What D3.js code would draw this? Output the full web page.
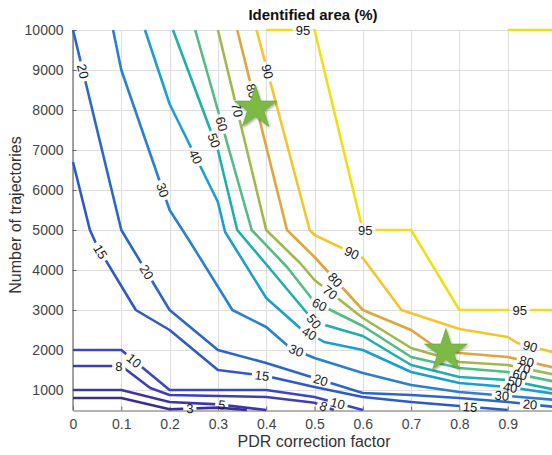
<!DOCTYPE html>
<html>
<head>
<meta charset="utf-8">
<script src="https://cdn.jsdelivr.net/npm/d3@7"></script>
<style>
  body { margin: 0; background: #fff; }
  svg { display: block; font-family: "Liberation Sans", Arial, sans-serif; }
</style>
</head>
<body>
<svg id="chart" width="552" height="455"></svg>
<script>
// Axis ticks
const xTicks = [0, 0.1, 0.2, 0.3, 0.4, 0.5, 0.6, 0.7, 0.8, 0.9, 1];
const yTicks = [1000, 2000, 3000, 4000, 5000, 6000, 7000, 8000, 9000, 10000];

// Contour lines: [PDR correction factor, number of trajectories]
const c3  = [[0,800],[0.1,800],[0.2,520],[0.3,560],[0.36,500]];
const c5  = [[0,1000],[0.1,1000],[0.2,700],[0.3,640],[0.4,500]];
const c8  = [[0,1600],[0.1,1600],[0.16,1050],[0.2,875],[0.4,825],[0.5,680],[0.54,500]];
const c10 = [[0,2000],[0.1,2000],[0.2,1000],[0.4,1000],[0.5,825],[0.6,500]];
const c15 = [[0,6700],[0.035,5000],[0.05,4600],[0.13,3000],[0.2,2500],[0.3,1500],[0.4,1350],[0.5,1075],[0.6,825],[0.7,700],[0.8,600],[0.9,500]];
const c20 = [[0,10000],[0.1,5000],[0.2,3000],[0.3,2000],[0.4,1675],[0.5,1300],[0.6,925],[0.7,875],[0.8,800],[0.9,700],[1,575]];
const c30 = [[0.083,10000],[0.1,9000],[0.2,5500],[0.24,4750],[0.33,3000],[0.4,2575],[0.45,2050],[0.5,1800],[0.6,1425],[0.7,1125],[0.8,950],[0.9,850],[1,750]];
const c40 = [[0.149,10000],[0.2,8150],[0.3,5700],[0.315,4950],[0.4,3300],[0.47,2550],[0.52,2200],[0.6,2000],[0.7,1450],[0.8,1175],[0.9,1075],[1,900]];
const c50 = [[0.207,10000],[0.3,7000],[0.34,5000],[0.41,4000],[0.5,2700],[0.6,2350],[0.7,1625],[0.8,1325],[0.9,1250],[1,1000]];
const c60 = [[0.253,10000],[0.37,5000],[0.443,4075],[0.5,3200],[0.6,2600],[0.7,1825],[0.8,1550],[0.9,1450],[1,1200]];
const c70 = [[0.3,10000],[0.4,5000],[0.47,4175],[0.5,3750],[0.6,2800],[0.7,2050],[0.8,1700],[0.9,1625],[1,1375]];
const c80 = [[0.34,10000],[0.443,5000],[0.5,4325],[0.6,3000],[0.7,2500],[0.75,2075],[0.8,1925],[0.9,1825],[1,1550]];
const c90 = [[0.38,10000],[0.49,5000],[0.5,4875],[0.6,4300],[0.68,3000],[0.8,2525],[0.9,2325],[0.92,2175],[1,1925]];
const c95a = [[0.4,10000],[0.5,10000],[0.6,5000],[0.7,5000],[0.8,3000],[1,3000]];
const c95b = [[0.9,10000],[1,10000]];

// Inline label anchors for each contour line
const lab3  = [[0.242,525]];
const lab5  = [[0.308,625]];
const lab8  = [[0.095,1575],[0.518,575]];
const lab10 = [[0.124,1700],[0.547,625]];
const lab15 = [[0.056,4450],[0.391,1325],[0.822,575]];
const lab20 = [[0.0145,8950],[0.149,3925],[0.511,1175],[0.946,600]];
const lab30 = [[0.186,6000],[0.46,1925],[0.888,850]];
const lab40 = [[0.253,6825],[0.485,2325],[0.905,1050]];
const lab50 = [[0.294,7250],[0.495,2675],[0.915,1200]];
const lab60 = [[0.315,7675],[0.507,3050],[0.925,1375]];
const lab70 = [[0.34,8000],[0.526,3350],[0.932,1550]];
const lab80 = [[0.362,8450],[0.538,3700],[0.94,1750]];
const lab90 = [[0.4,8950],[0.578,4450],[0.946,2075]];
const lab95a = [[0.476,10000],[0.605,5000],[0.925,3000]];
const lab95b = [];

// Marked operating points
const starPoints = [[0.378, 8050], [0.772, 1975]];

const contours = [
  { level: 3,  pts: c3,  labels: lab3,  color: "#3a2f8f" },
  { level: 5,  pts: c5,  labels: lab5,  color: "#3d36a6" },
  { level: 8,  pts: c8,  labels: lab8,  color: "#3f3fb5" },
  { level: 10, pts: c10, labels: lab10, color: "#3c47bf" },
  { level: 15, pts: c15, labels: lab15, color: "#3059c8" },
  { level: 20, pts: c20, labels: lab20, color: "#2d66c9" },
  { level: 30, pts: c30, labels: lab30, color: "#2a7fd1" },
  { level: 40, pts: c40, labels: lab40, color: "#1a9fd0" },
  { level: 50, pts: c50, labels: lab50, color: "#1fb0ad" },
  { level: 60, pts: c60, labels: lab60, color: "#52bc84" },
  { level: 70, pts: c70, labels: lab70, color: "#a0b94e" },
  { level: 80, pts: c80, labels: lab80, color: "#e0a53c" },
  { level: 90, pts: c90, labels: lab90, color: "#f5c52c" },
  { level: 95, pts: c95a, labels: lab95a, color: "#f0df14" },
  { level: 95, pts: c95b, labels: lab95b, color: "#f0df14" }
];

const svg = d3.select("#chart");
const W = 552, H = 455;

const x = d3.scaleLinear().domain([0, 1]).range([73, 556]);
const y = d3.scaleLinear().domain([500, 10000]).range([410, 30]);

const defs = svg.append("defs");
const shadow = defs.append("filter").attr("id", "starShadow")
  .attr("x", "-30%").attr("y", "-30%").attr("width", "160%").attr("height", "160%");
shadow.append("feDropShadow").attr("dx", 1).attr("dy", 1.5)
  .attr("stdDeviation", 1.3).attr("flood-color", "#000").attr("flood-opacity", 0.35);

// Grid
const grid = svg.append("g").attr("stroke", "#dedede").attr("stroke-width", 1);
grid.selectAll("line.gx").data(xTicks).join("line")
  .attr("x1", d => Math.round(x(d)) + 0.5).attr("x2", d => Math.round(x(d)) + 0.5)
  .attr("y1", y(500)).attr("y2", y(10000));
grid.selectAll("line.gy").data(yTicks).join("line")
  .attr("y1", d => Math.round(y(d)) + 0.5).attr("y2", d => Math.round(y(d)) + 0.5)
  .attr("x1", x(0)).attr("x2", x(1));

// Axes
const xAxis = d3.axisBottom(x).tickValues(xTicks).tickSizeInner(-4).tickSizeOuter(0)
  .tickPadding(9).tickFormat(d3.format("~g"));
const yAxis = d3.axisLeft(y).tickValues(yTicks).tickSizeInner(-4).tickSizeOuter(0)
  .tickPadding(9).tickFormat(d3.format("d"));

const gx = svg.append("g").attr("transform", `translate(0,${y(500) + 0.5})`).call(xAxis);
const gy = svg.append("g").attr("transform", `translate(${x(0) - 0.5},0)`).call(yAxis);
[gx, gy].forEach(g => {
  g.select(".domain").attr("stroke", "#6b6b6b").attr("stroke-width", 1.2);
  g.selectAll(".tick line").attr("stroke", "#6b6b6b");
  g.selectAll(".tick text").attr("fill", "#444").attr("font-size", 14)
    .attr("font-family", "Liberation Sans, Arial, sans-serif");
});

// Contour lines with inline labels
const line = d3.line().x(d => x(d[0])).y(d => y(d[1]));
const labelLayer = svg.append("g");
const lineLayer = svg.insert("g", () => labelLayer.node());

function anchorOnLine(pts, p) {
  const P = [x(p[0]), y(p[1])];
  let best = null;
  for (let i = 0; i < pts.length - 1; i++) {
    const a = [x(pts[i][0]), y(pts[i][1])];
    const b = [x(pts[i + 1][0]), y(pts[i + 1][1])];
    const dx = b[0] - a[0], dy = b[1] - a[1];
    const len2 = dx * dx + dy * dy;
    let t = len2 ? ((P[0] - a[0]) * dx + (P[1] - a[1]) * dy) / len2 : 0;
    t = Math.max(0, Math.min(1, t));
    const q = [a[0] + t * dx, a[1] + t * dy];
    const dist = Math.hypot(P[0] - q[0], P[1] - q[1]);
    if (!best || dist < best.dist) {
      let ang = Math.atan2(dy, dx) * 180 / Math.PI;
      if (ang > 90) ang -= 180;
      if (ang <= -90) ang += 180;
      best = { q, ang, dist };
    }
  }
  return best;
}

contours.forEach((c, i) => {
  const holes = [];
  c.labels.forEach(p => {
    const a = anchorOnLine(c.pts, p);
    const t = labelLayer.append("text")
      .attr("transform", `translate(${a.q[0]},${a.q[1]}) rotate(${a.ang})`)
      .attr("text-anchor", "middle").attr("dy", "0.36em")
      .attr("font-size", 13).attr("fill", "#1a1a1a")
      .text(c.level);
    holes.push({ a, w: t.node().getComputedTextLength() });
  });
  const id = "gap" + i;
  const mask = defs.append("mask").attr("id", id)
    .attr("maskUnits", "userSpaceOnUse").attr("x", 0).attr("y", 0)
    .attr("width", W).attr("height", H);
  mask.append("rect").attr("width", W).attr("height", H).attr("fill", "#fff");
  holes.forEach(h => {
    mask.append("rect")
      .attr("transform", `translate(${h.a.q[0]},${h.a.q[1]}) rotate(${h.a.ang})`)
      .attr("x", -h.w / 2 - 3).attr("y", -7).attr("width", h.w + 6).attr("height", 14)
      .attr("fill", "#000");
  });
  lineLayer.append("path")
    .attr("d", line(c.pts))
    .attr("fill", "none")
    .attr("stroke", c.color)
    .attr("stroke-width", 2.6)
    .attr("stroke-linejoin", "round")
    .attr("mask", `url(#${id})`);
});

// Stars
svg.append("g").selectAll("path").data(starPoints).join("path")
  .attr("d", d3.symbol().type(d3.symbolStar).size(570))
  .attr("transform", d => `translate(${x(d[0])},${y(d[1])})`)
  .attr("fill", "#7cb944")
  .attr("stroke", "#6aa537").attr("stroke-width", 0.6)
  .attr("filter", "url(#starShadow)");

// Titles
svg.append("text").attr("x", 313).attr("y", 20).attr("text-anchor", "middle")
  .attr("font-size", 15).attr("font-weight", "bold").attr("fill", "#111")
  .text("Identified area (%)");
svg.append("text").attr("x", 314).attr("y", 447).attr("text-anchor", "middle")
  .attr("font-size", 16).attr("fill", "#333")
  .text("PDR correction factor");
svg.append("text").attr("transform", "translate(21,215) rotate(-90)")
  .attr("text-anchor", "middle").attr("font-size", 16).attr("fill", "#333")
  .text("Number of trajectories");
</script>
</body>
</html>
